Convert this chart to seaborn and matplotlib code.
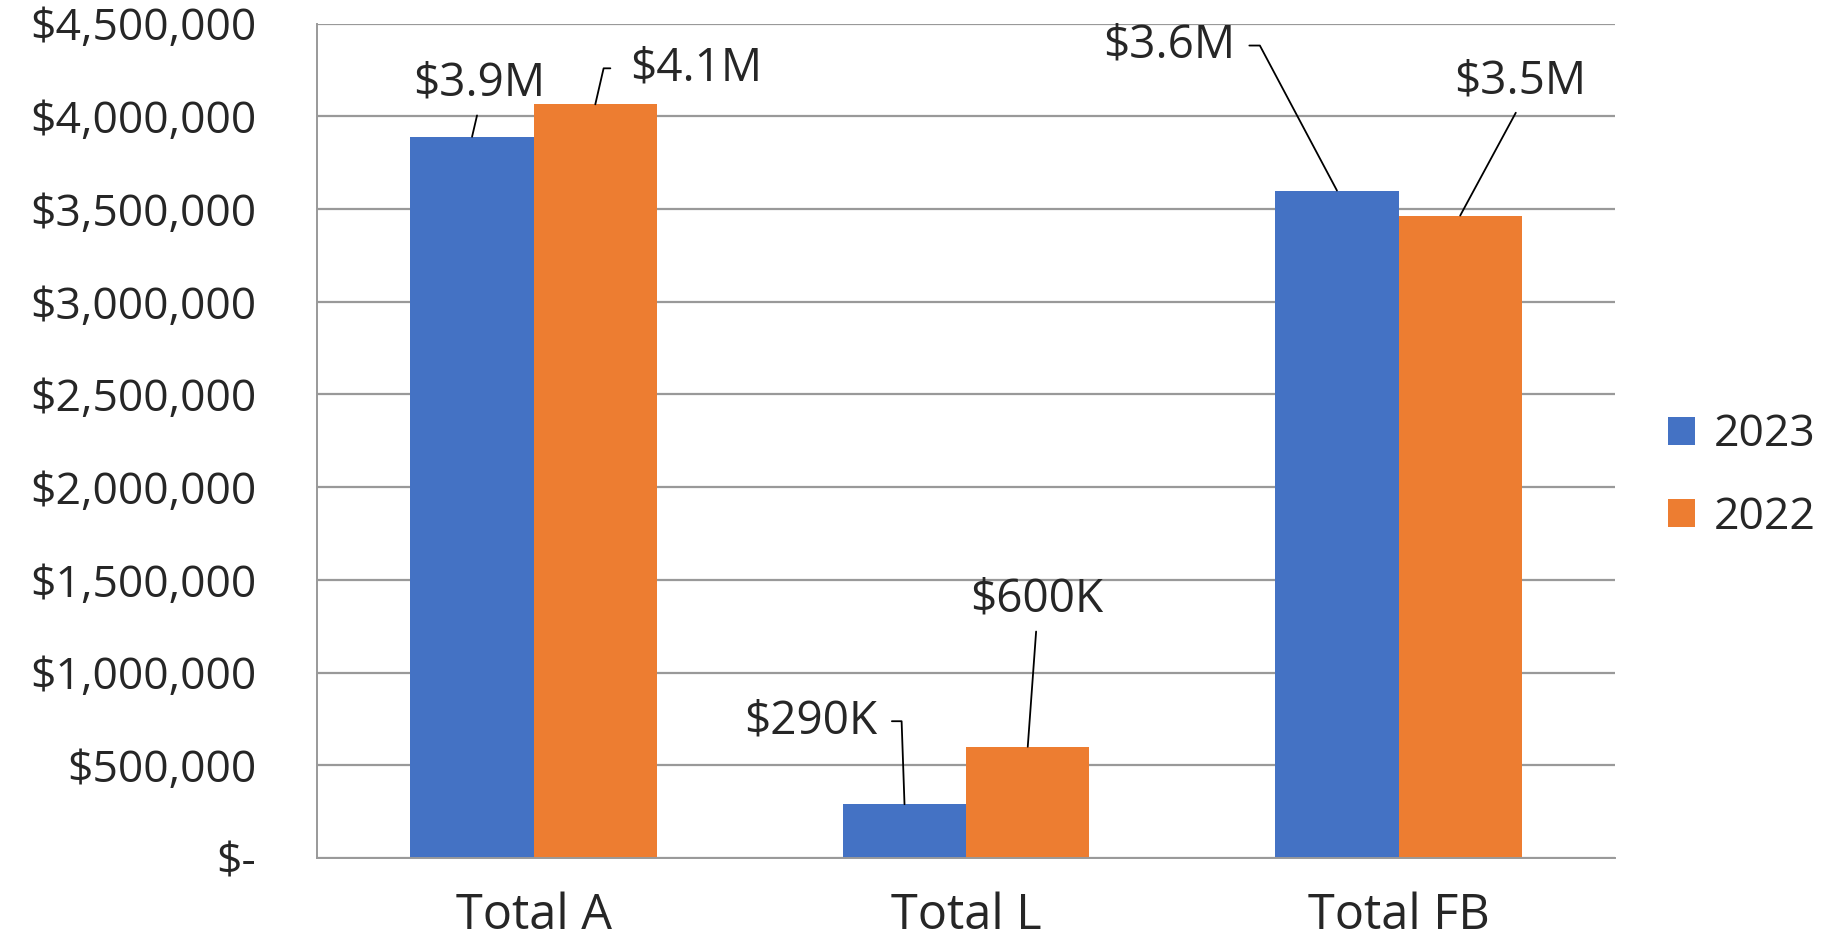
import numpy as np
import pandas as pd
import matplotlib
matplotlib.use("Agg")
import matplotlib.pyplot as plt
import seaborn as sns
from matplotlib.ticker import FuncFormatter

# data
categories = ["Total A", "Total L", "Total FB"]
years = ["2023", "2022"]
values_2023 = [3890000, 290000, 3600000]
values_2022 = [4065000, 600000, 3465000]
labels_2023 = ["$3.9M", "$290K", "$3.6M"]
labels_2022 = ["$4.1M", "$600K", "$3.5M"]
yticks = [0, 500000, 1000000, 1500000, 2000000, 2500000, 3000000, 3500000, 4000000, 4500000]

df = pd.DataFrame({
    "Category": categories * 2,
    "Year": [years[0]] * 3 + [years[1]] * 3,
    "Value": values_2023 + values_2022,
})

sns.set_style("white")
plt.rcParams["font.family"] = ["Open Sans", "DejaVu Sans"]

grid_col = "#999999"

fig = plt.figure(figsize=(18.35, 9.47), dpi=100)
ax = fig.add_axes([0.173, 0.094, 0.707, 0.881])
sns.barplot(data=df, x="Category", y="Value", hue="Year", hue_order=years,
            palette=["#4472C4", "#ED7D31"], width=0.57, gap=0, saturation=1,
            errorbar=None, linewidth=0, ax=ax)

ax.set_xlim(-0.5, 2.5)
ax.set_ylim(0, 4500000)
ax.set_xlabel("")
ax.set_ylabel("")

# y axis
ax.set_yticks(yticks)
ax.yaxis.set_major_formatter(FuncFormatter(lambda v, p: "$-" if v == 0 else "${:,.0f}".format(v)))
ax.yaxis.grid(True, color=grid_col, lw=1.6)
ax.set_axisbelow(True)
ax.tick_params(axis="y", length=10, width=1.4, color=grid_col, pad=34, labelsize=32)

# x axis: ticks on category borders, labels in the middle
ax.set_xticks([-0.5, 0.5, 1.5, 2.5], labels=[])
ax.set_xticks([0, 1, 2], labels=categories, minor=True)
ax.tick_params(axis="x", which="major", length=9, width=1.4, color=grid_col)
ax.tick_params(axis="x", which="minor", length=0, pad=24, labelsize=35)

for s in ["top", "right"]:
    ax.spines[s].set_visible(False)
for s in ["left", "bottom"]:
    ax.spines[s].set_color(grid_col)
    ax.spines[s].set_linewidth(1.4)

# data labels with leader lines (offsets in pixels from bar top)
ann_2023 = [
    dict(off=(7, 53), ha="center", rel=(0.5, 0), conn="arc3", shr=4),
    dict(off=(-27, 83), ha="right", rel=(1, 0.5), conn="angle,angleA=0,angleB=92,rad=0", shr=8),
    dict(off=(-102, 145), ha="right", rel=(1, 0.5), conn="angle,angleA=0,angleB=118,rad=0", shr=8),
]
ann_2022 = [
    dict(off=(35, 36), ha="left", rel=(0, 0.5), conn="angle,angleA=0,angleB=77,rad=0", shr=12),
    dict(off=(9, 147), ha="center", rel=(0.5, 0), conn="arc3", shr=4),
    dict(off=(60, 134), ha="center", rel=(0.5, 0), conn="arc3", shr=4),
]

for cont, labs, specs in zip(ax.containers, [labels_2023, labels_2022], [ann_2023, ann_2022]):
    for bar, lab, sp in zip(cont, labs, specs):
        xy = (bar.get_x() + bar.get_width() / 2, bar.get_height())
        ax.annotate(lab, xy=xy, xytext=sp["off"], textcoords="offset pixels",
                    ha=sp["ha"], va="center", fontsize=33,
                    arrowprops=dict(arrowstyle="-", color="black", lw=1.3,
                                    relpos=sp["rel"], connectionstyle=sp["conn"],
                                    shrinkA=sp["shr"], shrinkB=0))

h, l = ax.get_legend_handles_labels()
ax.get_legend().remove()
fig.legend(h, l, loc="center left", bbox_to_anchor=(0.909, 0.497), frameon=False,
           fontsize=32, handlelength=0.6, handleheight=0.6, handletextpad=0.42,
           labelspacing=0.85, borderpad=0, borderaxespad=0)

fig.savefig("out.png", dpi=100)
